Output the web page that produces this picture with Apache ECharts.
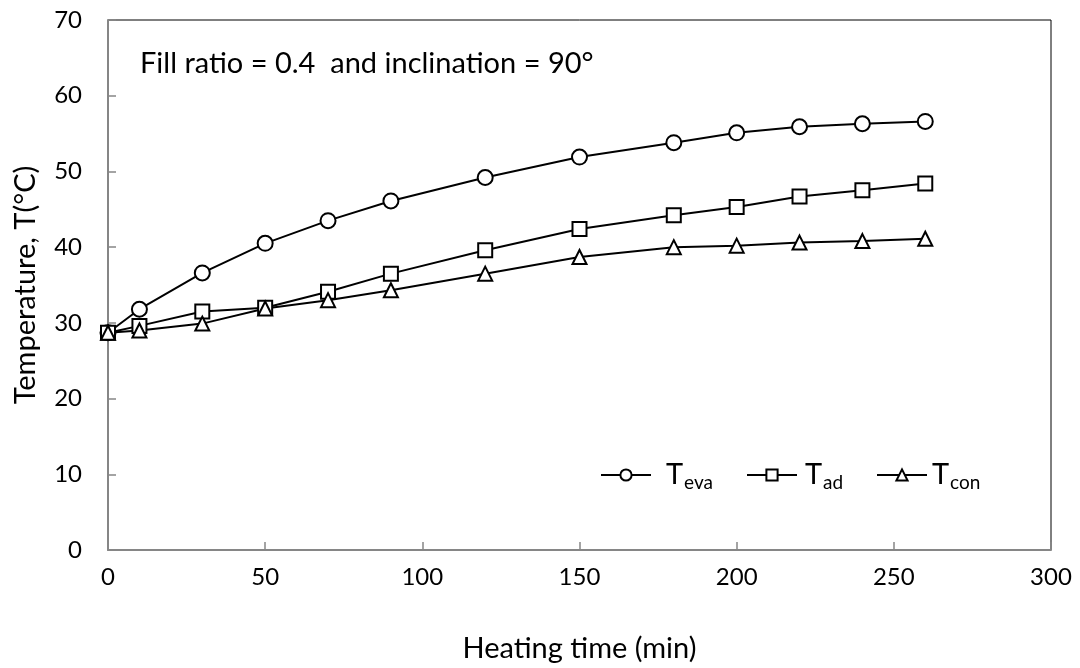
<!DOCTYPE html>
<html>
<head>
<meta charset="utf-8">
<script src="https://cdn.jsdelivr.net/npm/echarts@6/dist/echarts.min.js"></script>
<style>
  html, body { margin: 0; padding: 0; background: #fff; }
  #chart { width: 1080px; height: 668px; }
</style>
</head>
<body>
<div id="chart"></div>
<script>
// Heating time (min)
const times = [0, 10, 30, 50, 70, 90, 120, 150, 180, 200, 220, 240, 260];
// Evaporator temperature (°C)
const tEva = [28.7, 31.8, 36.6, 40.5, 43.5, 46.1, 49.2, 51.9, 53.8, 55.1, 55.9, 56.3, 56.6];
// Adiabatic section temperature (°C)
const tAd = [28.7, 29.6, 31.5, 32.0, 34.1, 36.5, 39.6, 42.4, 44.2, 45.3, 46.7, 47.5, 48.4];
// Condenser temperature (°C)
const tCon = [28.7, 29.0, 29.9, 31.9, 33.0, 34.3, 36.5, 38.7, 40.0, 40.2, 40.6, 40.8, 41.1];

const subscripts = { Teva: 'eva', Tad: 'ad', Tcon: 'con' };
const annotation = 'Fill ratio = 0.4  and inclination = 90°';

const FONT = 'Lato, "Open Sans", sans-serif';
const axisGray = '#868686';

function pairs(ys) {
  return times.map((t, i) => [t, ys[i]]);
}

function lineSeries(name, ys, symbol, size) {
  return {
    name: name,
    type: 'line',
    data: pairs(ys),
    symbol: symbol,
    symbolSize: size,
    showAllSymbol: true,
    lineStyle: { color: '#000', width: 2 },
    itemStyle: { color: '#fff', borderColor: '#000', borderWidth: 2 },
    emphasis: { disabled: true },
    z: 3
  };
}

// One legend block per series so each entry sits where it should
function legendFor(name, left, pad) {
  return {
    data: [name],
    left: left,
    top: 453,
    itemWidth: 50,
    itemHeight: 14,
    itemStyle: { borderWidth: 2 },
    lineStyle: { width: 2 },
    formatter: n => '{t|T}{s|' + subscripts[n] + '}',
    textStyle: {
      padding: [0, 0, 0, pad],
      rich: {
        t: { fontFamily: FONT, fontSize: 29, color: '#000', lineHeight: 30, verticalAlign: 'top' },
        s: { fontFamily: FONT, fontSize: 19, color: '#000', lineHeight: 19, padding: [15, 0, 0, 1] }
      }
    }
  };
}

const chart = echarts.init(document.getElementById('chart'), null, { renderer: 'canvas' });

chart.setOption({
  animation: false,
  backgroundColor: '#fff',
  grid: {
    left: 108, right: 29, top: 20, bottom: 117,
    show: true, borderColor: '#000', borderWidth: 1, backgroundColor: 'transparent'
  },
  xAxis: {
    type: 'value',
    min: 0, max: 300, interval: 50,
    name: 'Heating time (min)',
    nameLocation: 'middle',
    nameGap: 84,
    nameTextStyle: { fontFamily: FONT, fontSize: 29, color: '#000' },
    axisLine: { show: true, onZero: false, lineStyle: { color: axisGray, width: 2 } },
    axisTick: { show: true, inside: true, length: 8, lineStyle: { color: axisGray, width: 1.5 } },
    axisLabel: { fontFamily: FONT, fontSize: 24, color: '#000', margin: 15 },
    splitLine: { show: false }
  },
  yAxis: {
    type: 'value',
    min: 0, max: 70, interval: 10,
    name: 'Temperature, T(°C)',
    nameLocation: 'middle',
    nameGap: 68,
    nameTextStyle: { fontFamily: FONT, fontSize: 29, color: '#000' },
    axisLine: { show: true, lineStyle: { color: axisGray, width: 2 } },
    axisTick: { show: true, inside: true, length: 8, lineStyle: { color: axisGray, width: 1.5 } },
    axisLabel: { fontFamily: FONT, fontSize: 24, color: '#000', margin: 26 },
    splitLine: { show: false }
  },
  legend: [
    legendFor('Teva', 595, 10),
    legendFor('Tad', 741, 3),
    legendFor('Tcon', 871, 0)
  ],
  graphic: [{
    type: 'text',
    left: 140,
    top: 49,
    style: { text: annotation, font: '29px ' + FONT, fill: '#000' }
  }],
  series: [
    lineSeries('Teva', tEva, 'circle', 15),
    lineSeries('Tad', tAd, 'rect', 14),
    lineSeries('Tcon', tCon, 'triangle', 14)
  ]
});
</script>
</body>
</html>
